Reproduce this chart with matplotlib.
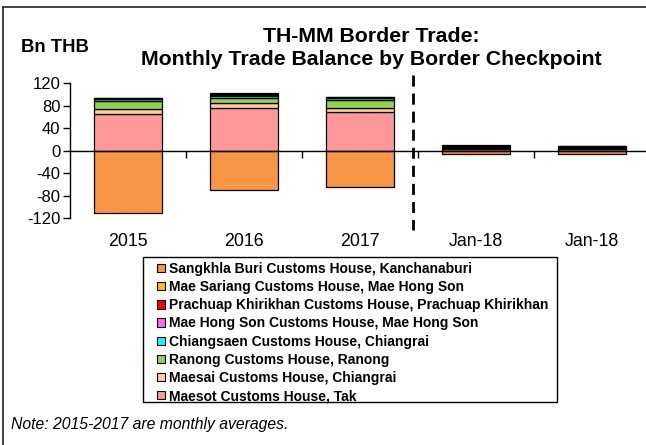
import matplotlib
matplotlib.use("Agg")
import matplotlib.pyplot as plt
import matplotlib.transforms as mtransforms
from matplotlib.patches import Patch, Rectangle
from matplotlib.lines import Line2D
import numpy as np

plt.rcParams['font.family'] = ['Liberation Sans', 'DejaVu Sans']

categories = ["2015", "2016", "2017", "Jan-18", "Jan-18"]

# stacking order bottom -> top (positive), Sangkhla Buri negative
series_names = [
    "Maesot Customs House, Tak",
    "Maesai Customs House, Chiangrai",
    "Ranong Customs House, Ranong",
    "Chiangsaen Customs House, Chiangrai",
    "Mae Hong Son Customs House, Mae Hong Son",
    "Prachuap Khirikhan Customs House, Prachuap Khirikhan",
    "Mae Sariang Customs House, Mae Hong Son",
    "Sangkhla Buri Customs House, Kanchanaburi",
]
maesot      = [65.0, 76.0, 68.5, 3.0, 2.5]
maesai      = [9.5, 9.0, 8.0, 1.0, 1.0]
ranong      = [14.0, 9.5, 14.0, 1.5, 1.5]
chiangsaen  = [3.0, 3.0, 3.5, 1.0, 1.0]
maehongson  = [1.0, 1.0, 0.5, 1.0, 1.5]
prachuap    = [1.5, 3.0, 1.0, 1.5, 1.0]
maesariang  = [0.5, 0.5, 0.5, 1.0, 0.5]
sangkhla    = [-110.0, -69.5, -63.5, -5.0, -5.5]

series_values = [maesot, maesai, ranong, chiangsaen, maehongson, prachuap, maesariang, sangkhla]
colors = ["#FF9999", "#FFCC99", "#92D050", "#00FFFF", "#FF66FF", "#FF0000", "#FFC000", "#F79646"]

yticks = [-120, -80, -40, 0, 40, 80, 120]

W, H = 646, 445
fig = plt.figure(figsize=(W/100, H/100), dpi=100)

ax = fig.add_axes([70/W, 1-218.3/H, 580/W, 135/H])
x = np.arange(len(categories))
bw = 0.58
pos_bottom = np.zeros(len(categories))
neg_bottom = np.zeros(len(categories))
for vals, c in zip(series_values, colors):
    v = np.array(vals)
    bottoms = np.where(v >= 0, pos_bottom, neg_bottom)
    ax.bar(x, v, bw, bottom=bottoms, color=c, edgecolor="black", linewidth=0.9, zorder=3)
    pos_bottom = pos_bottom + np.where(v >= 0, v, 0)
    neg_bottom = neg_bottom + np.where(v < 0, v, 0)

ax.set_xlim(-0.5, len(categories) - 0.5)
ax.set_ylim(-120, 120)
ax.set_yticks(yticks)
ax.set_yticklabels([str(t) for t in yticks], fontsize=12)
ax.tick_params(axis='y', length=5, width=1, pad=2)

for s in ['top', 'right']:
    ax.spines[s].set_visible(False)
ax.spines['left'].set_linewidth(1)
ax.spines['bottom'].set_position(('data', 0))
ax.spines['bottom'].set_linewidth(1)
ax.spines['bottom'].set_zorder(4)
ax.set_xticks(np.arange(len(categories) - 1) + 0.5)
ax.set_xticklabels([])
ax.tick_params(axis='x', length=5, width=1, direction='out')

trans = mtransforms.blended_transform_factory(ax.transData, fig.transFigure)
for xi, lab in zip(x, categories):
    ax.text(xi, 1 - 242/H, lab, transform=trans, ha='center', va='center', fontsize=12.8)

# dashed separator
ax.plot([2.455, 2.455], [135, -140], color='black', lw=2, ls=(0, (4, 2.5)), clip_on=False, zorder=5)

fig.text(21/W, 1 - 48/H, "Bn THB", fontsize=13.3, fontweight='bold', ha='left', va='center')
fig.text(371/W, 1 - 48/H, "TH-MM Border Trade:\nMonthly Trade Balance by Border Checkpoint",
         fontsize=15.3, fontweight='bold', ha='center', va='center', linespacing=1.25)

# legend box
fig.add_artist(Rectangle((143/W, 1 - 402/H), 414/W, 145/H, transform=fig.transFigure,
                         facecolor='white', edgecolor='black', lw=1, zorder=1))
# legend (reverse order, like Excel)
handles = [Patch(facecolor=c, edgecolor='black', linewidth=0.8) for c in colors][::-1]
labels = series_names[::-1]
leg = fig.legend(handles, labels, loc='upper left', bbox_to_anchor=(157/W, 1 - 262/H),
                 prop={'weight': 'bold', 'size': 10.0}, frameon=False,
                 handlelength=0.55, handleheight=0.55, handletextpad=0.3,
                 labelspacing=0.30, borderpad=0, borderaxespad=0)
leg.set_zorder(2)

fig.text(11/W, 1 - 424/H, "Note: 2015-2017 are monthly averages.", fontsize=11.3, style='italic',
         ha='left', va='center')

# outer frame lines (top and left)
fig.add_artist(Line2D([2.7/W, 1], [1 - 7.3/H, 1 - 7.3/H], color='#333333', lw=1.3, transform=fig.transFigure))
fig.add_artist(Line2D([2.7/W, 2.7/W], [1 - 7.3/H, 0], color='#333333', lw=1.3, transform=fig.transFigure))

fig.savefig("out.png", dpi=100)
